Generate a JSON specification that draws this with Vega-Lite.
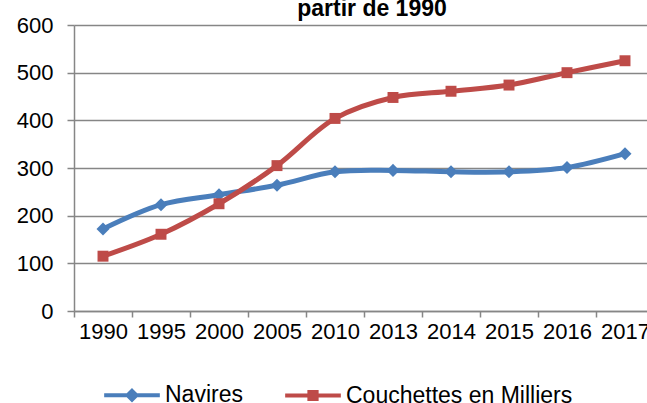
{
  "$schema": "https://vega.github.io/schema/vega-lite/v6.json",
  "autosize": {"type": "none"},
  "width": 580,
  "height": 286,
  "padding": {"left": 74, "top": 25, "right": 0, "bottom": 92},
  "background": "white",
  "title": {
    "text": "partir de 1990",
    "font": "Liberation Sans",
    "fontSize": 23,
    "fontWeight": "bold",
    "color": "#000000",
    "anchor": "middle",
    "offset": 0,
    "dy": 7,
    "dx": 8
  },
  "config": {
    "font": "Liberation Sans",
    "view": {"stroke": null},
    "axis": {
      "labelFont": "Liberation Sans",
      "labelFontSize": 22,
      "labelColor": "#000000",
      "domainColor": "#868686",
      "tickColor": "#868686",
      "gridColor": "#868686",
      "domainWidth": 1.5,
      "tickWidth": 1.5,
      "gridWidth": 1.5
    }
  },
  "data": {
    "values": [
      {"annee": "1990", "serie": "Navires", "valeur": 172},
      {"annee": "1995", "serie": "Navires", "valeur": 223},
      {"annee": "2000", "serie": "Navires", "valeur": 244},
      {"annee": "2005", "serie": "Navires", "valeur": 264},
      {"annee": "2010", "serie": "Navires", "valeur": 292},
      {"annee": "2013", "serie": "Navires", "valeur": 295},
      {"annee": "2014", "serie": "Navires", "valeur": 292},
      {"annee": "2015", "serie": "Navires", "valeur": 292},
      {"annee": "2016", "serie": "Navires", "valeur": 301},
      {"annee": "2017", "serie": "Navires", "valeur": 330},
      {"annee": "1990", "serie": "Couchettes en Milliers", "valeur": 115},
      {"annee": "1995", "serie": "Couchettes en Milliers", "valeur": 161},
      {"annee": "2000", "serie": "Couchettes en Milliers", "valeur": 225},
      {"annee": "2005", "serie": "Couchettes en Milliers", "valeur": 305},
      {"annee": "2010", "serie": "Couchettes en Milliers", "valeur": 404},
      {"annee": "2013", "serie": "Couchettes en Milliers", "valeur": 448},
      {"annee": "2014", "serie": "Couchettes en Milliers", "valeur": 461},
      {"annee": "2015", "serie": "Couchettes en Milliers", "valeur": 474},
      {"annee": "2016", "serie": "Couchettes en Milliers", "valeur": 500},
      {"annee": "2017", "serie": "Couchettes en Milliers", "valeur": 525}
    ]
  },
  "encoding": {
    "x": {
      "field": "annee",
      "type": "ordinal",
      "sort": null,
      "title": null,
      "scale": {"type": "band", "paddingInner": 0, "paddingOuter": 0},
      "axis": {"labelAngle": 0, "tickBand": "extent", "tickSize": 6, "labelPadding": 4, "grid": false}
    },
    "y": {
      "field": "valeur",
      "type": "quantitative",
      "title": null,
      "scale": {"domain": [0, 600], "nice": false},
      "axis": {"values": [0, 100, 200, 300, 400, 500, 600], "tickSize": 7, "labelPadding": 14, "grid": true}
    },
    "color": {
      "field": "serie",
      "type": "nominal",
      "sort": ["Navires", "Couchettes en Milliers"],
      "scale": {"domain": ["Navires", "Couchettes en Milliers"], "range": ["#4a7ebb", "#be4b48"]}
    }
  },
  "layer": [
    {
      "mark": {"type": "line", "strokeWidth": 5, "interpolate": "catmull-rom"},
      "encoding": {"color": {"field": "serie", "type": "nominal", "legend": null}}
    },
    {
      "mark": {"type": "point", "filled": true, "opacity": 1},
      "encoding": {
        "color": {"field": "serie", "type": "nominal", "legend": null},
        "shape": {
          "field": "serie",
          "type": "nominal",
          "scale": {"domain": ["Navires", "Couchettes en Milliers"], "range": ["diamond", "square"]},
          "legend": null
        },
        "size": {
          "field": "serie",
          "type": "nominal",
          "scale": {"domain": ["Navires", "Couchettes en Milliers"], "range": [170, 120]},
          "legend": null
        }
      }
    },
    {
      "mark": {"type": "point", "filled": false, "opacity": 0, "strokeWidth": 4},
      "encoding": {
        "shape": {
          "field": "serie",
          "type": "nominal",
          "sort": ["Navires", "Couchettes en Milliers"],
          "scale": {
            "domain": ["Navires", "Couchettes en Milliers"],
            "range": ["M-1,0H1M0,-0.16L0.16,0L0,0.16L-0.16,0Z", "M-1,0H1M-0.13,-0.13H0.13V0.13H-0.13Z"]
          },
          "legend": {
            "title": null,
            "orient": "none",
            "legendX": 28,
            "legendY": 340,
            "direction": "horizontal",
            "symbolSize": 3100,
            "symbolStrokeWidth": 4,
            "symbolOpacity": 1,
            "symbolStrokeColor": {"expr": "scale('color', datum.value)"},
            "symbolFillColor": {"expr": "scale('color', datum.value)"},
            "labelFont": "Liberation Sans",
            "labelFontSize": 23,
            "labelColor": "#000000",
            "labelOffset": 3,
            "columnPadding": 34,
            "labelLimit": 400
          }
        },
        "color": {"field": "serie", "type": "nominal", "legend": null}
      }
    }
  ],
  "resolve": {"scale": {"shape": "independent", "size": "independent"}}
}
